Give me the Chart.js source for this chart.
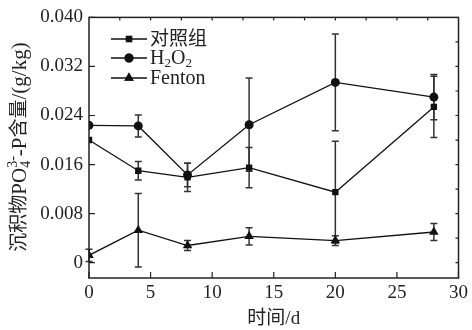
<!DOCTYPE html>
<html>
<head>
<meta charset="utf-8">
<script src="https://cdn.jsdelivr.net/npm/chart.js@4/dist/chart.umd.min.js"></script>
<style>
  html, body { margin: 0; padding: 0; background: #fff; }
  #wrap { width: 472px; height: 330px; }
</style>
</head>
<body>
<div id="wrap"><canvas id="myChart" width="472" height="330"></canvas></div>
<script>
const days = [0, 4, 8, 13, 20, 28];
const controlVals = [0.0200, 0.0150, 0.0139, 0.0155, 0.0115, 0.0254];
const controlErr = [0, 0.0015, 0.0023, 0.0033, 0.0083, 0.0050];
const h2o2Vals = [0.0224, 0.0223, 0.0143, 0.0225, 0.0294, 0.0270];
const h2o2Err = [0, 0.0018, 0.0019, 0.0076, 0.0079, 0.0037];
const fentonVals = [0.0012, 0.0053, 0.0028, 0.0043, 0.0036, 0.0050];
const fentonErr = [0.0010, 0.0060, 0.0008, 0.0014, 0.0008, 0.0014];
const xTicks = [0, 5, 10, 15, 20, 25, 30];
const yTicks = [0, 0.008, 0.016, 0.024, 0.032, 0.040];

const serif = '"Liberation Serif", "Noto Sans CJK SC", serif';
const ink = '#222';
const fs = 19;

function pts(vals) {
    return vals.map((v, i) => ({ x: days[i], y: v }));
}

const series = [
    { label: '对照组', vals: controlVals, err: controlErr, style: 'rect', r: 4.5 },
    { label: 'H2O2', vals: h2o2Vals, err: h2o2Err, style: 'circle', r: 4.5 },
    { label: 'Fenton', vals: fentonVals, err: fentonErr, style: 'triangle', r: 5.5 }
];

// error bars, frame, inward ticks, titles and legend
const extras = {
    id: 'extras',
    beforeDatasetsDraw(chart) {
        const c = chart.ctx, xs = chart.scales.x, ys = chart.scales.y;
        c.save();
        c.strokeStyle = '#333';
        c.lineWidth = 1.5;
        series.forEach(s => {
            s.vals.forEach((v, i) => {
                const e = s.err[i];
                if (!e) return;
                const px = xs.getPixelForValue(days[i]);
                const top = ys.getPixelForValue(v + e);
                const bot = ys.getPixelForValue(v - e);
                c.beginPath();
                c.moveTo(px, top); c.lineTo(px, bot);
                c.moveTo(px - 3.5, top); c.lineTo(px + 3.5, top);
                c.moveTo(px - 3.5, bot); c.lineTo(px + 3.5, bot);
                c.stroke();
            });
        });
        c.restore();
    },
    afterDraw(chart) {
        const c = chart.ctx, a = chart.chartArea;
        const xs = chart.scales.x, ys = chart.scales.y;
        c.save();
        c.strokeStyle = ink;
        c.lineWidth = 1.5;
        c.strokeRect(a.left, a.top, a.right - a.left, a.bottom - a.top);

        c.lineWidth = 1.2;
        c.beginPath();
        xTicks.forEach(t => {
            const px = xs.getPixelForValue(t);
            c.moveTo(px, a.bottom); c.lineTo(px, a.bottom - 6);
        });
        yTicks.forEach(t => {
            const py = ys.getPixelForValue(t);
            c.moveTo(a.left, py); c.lineTo(a.left + 6, py);
        });
        for (let t = 2.5; t < 30; t += 2.5) {
            const px = xs.getPixelForValue(t);
            c.moveTo(px, a.top); c.lineTo(px, a.top + 3);
        }
        for (let t = 0; t < 0.0399; t += 0.004) {
            const py = ys.getPixelForValue(t);
            c.moveTo(a.right, py); c.lineTo(a.right - 3, py);
        }
        c.stroke();

        c.fillStyle = ink;
        c.textBaseline = 'middle';
        c.textAlign = 'center';
        c.font = fs + 'px ' + serif;
        c.fillText('时间/d', (a.left + a.right) / 2, 319);

        // y title with sub/superscript
        c.save();
        c.translate(20, 147);
        c.rotate(-Math.PI / 2);
        const parts = [
            ['沉积物', 19, 0], ['PO', 21, 0], ['4', 14, 6], ['3-', 14, -7],
            ['-P', 21, 0], ['含量', 19, 0], ['/(g/kg)', 21, 0]
        ];
        let w = 0;
        parts.forEach(p => { c.font = p[1] + 'px ' + serif; if (p[0] !== '4') w += c.measureText(p[0]).width; });
        c.textAlign = 'left';
        let x = -w / 2;
        parts.forEach(p => {
            c.font = p[1] + 'px ' + serif;
            c.fillText(p[0], x, p[2]);
            if (p[0] !== '4') x += c.measureText(p[0]).width;
        });
        c.restore();

        // legend
        const rows = [39, 58, 78];
        series.forEach((s, i) => {
            const y = rows[i];
            c.strokeStyle = '#111';
            c.lineWidth = 1.3;
            c.beginPath();
            c.moveTo(111, y); c.lineTo(147, y);
            c.stroke();
            Chart.helpers.drawPoint(c, { pointStyle: s.style, radius: s.r, borderWidth: 0 }, 129, y);
            c.fillStyle = '#111';
            c.fill();
            c.fillStyle = ink;
            c.textAlign = 'left';
            if (s.label === 'H2O2') {
                let lx = 150;
                [['H', 20, 0], ['2', 13, 5], ['O', 20, 0], ['2', 13, 5]].forEach(p => {
                    c.font = p[1] + 'px ' + serif;
                    c.fillText(p[0], lx, y + 1 + p[2]);
                    lx += c.measureText(p[0]).width;
                });
            } else {
                c.font = (s.label === 'Fenton' ? 20 : fs) + 'px ' + serif;
                c.fillText(s.label, 150, y + 1);
            }
        });
        c.restore();
    }
};

const ctx = document.getElementById('myChart').getContext('2d');
const myChart = new Chart(ctx, {
    type: 'line',
    data: {
        datasets: series.map(s => ({
            label: s.label,
            data: pts(s.vals),
            borderColor: '#111',
            backgroundColor: '#111',
            borderWidth: 1.3,
            pointStyle: s.style,
            pointRadius: s.r,
            pointBorderWidth: 0,
            tension: 0
        }))
    },
    options: {
        responsive: false,
        animation: false,
        layout: { padding: { top: 15, right: 11, left: 0, bottom: 0 } },
        plugins: { legend: { display: false }, tooltip: { enabled: false } },
        scales: {
            x: {
                type: 'linear',
                min: 0,
                max: 30,
                afterBuildTicks: s => { s.ticks = xTicks.map(v => ({ value: v })); },
                afterFit: s => { s.height = 52; },
                grid: { display: false, drawTicks: false },
                border: { display: false },
                ticks: { color: ink, font: { family: serif, size: fs }, padding: 4, maxRotation: 0 }
            },
            y: {
                min: -0.0025,
                max: 0.040,
                afterBuildTicks: s => { s.ticks = yTicks.map(v => ({ value: v })); },
                afterFit: s => { s.width = 89; },
                grid: { display: false, drawTicks: false },
                border: { display: false },
                ticks: {
                    color: ink,
                    font: { family: serif, size: fs },
                    padding: 6,
                    callback: v => (v === 0 ? '0' : v.toFixed(3))
                }
            }
        }
    },
    plugins: [extras]
});
</script>
</body>
</html>
